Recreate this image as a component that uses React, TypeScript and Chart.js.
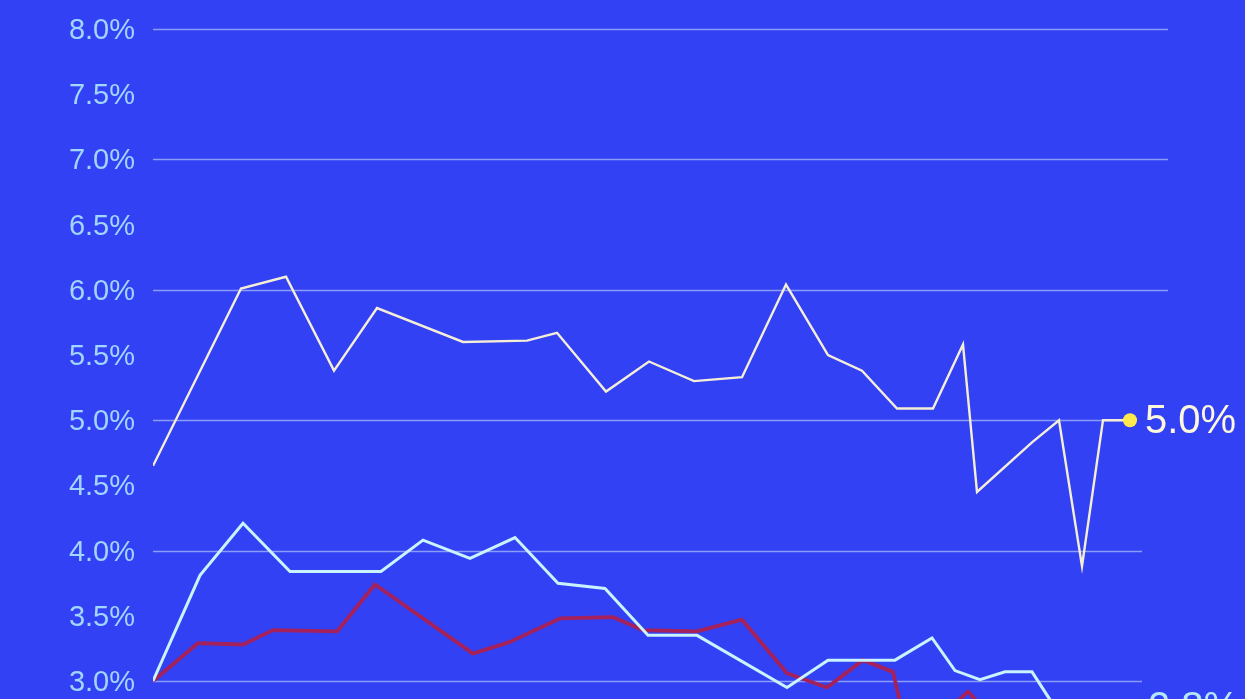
import { useEffect, useRef } from "react";
import { Chart, registerables } from "chart.js";

Chart.register(...registerables);

// Time positions (arbitrary time units) and values in percent
const yellowX = [0, 8.8, 13.3, 18.1, 22.4, 31.0, 37.4, 40.4, 45.3, 49.6, 54.1, 58.9, 63.3, 67.5, 70.9, 74.4, 78.0, 81.0, 82.4, 87.9, 90.6, 92.9, 95.0, 97.7];
const yellowY = [4.65, 6.01, 6.10, 5.38, 5.86, 5.60, 5.61, 5.67, 5.22, 5.45, 5.30, 5.33, 6.04, 5.50, 5.38, 5.09, 5.09, 5.58, 4.45, 4.83, 5.0, 3.88, 5.0, 5.0];

const cyanX = [0, 4.7, 9.0, 13.7, 22.8, 27.0, 31.7, 36.2, 40.5, 45.2, 49.5, 54.4, 63.4, 67.5, 74.2, 77.9, 80.2, 82.7, 85.2, 87.9, 90.6, 92.9, 95.0, 97.7];
const cyanY = [3.0, 3.81, 4.21, 3.84, 3.84, 4.08, 3.94, 4.10, 3.75, 3.71, 3.35, 3.35, 2.95, 3.16, 3.16, 3.33, 3.08, 3.01, 3.07, 3.07, 2.75, 2.7, 2.8, 2.8];

const redX = [0, 4.5, 9.0, 12.0, 18.4, 22.2, 32.0, 35.7, 40.7, 46.0, 49.0, 54.4, 58.9, 63.4, 67.4, 71.0, 74.0, 75.7, 81.5, 84.7, 90.6, 95.0, 97.7];
const redY = [3.0, 3.29, 3.28, 3.39, 3.38, 3.74, 3.21, 3.30, 3.48, 3.49, 3.39, 3.38, 3.47, 3.06, 2.95, 3.16, 3.07, 2.5, 2.92, 2.65, 2.7, 2.6, 2.6];

const yMin = 2.0;
const yMax = 8.0;
const yStep = 0.5;
const xMax = 101.5;

const BG = "#3341f4";
const YELLOW = "#f4eed6";
const CYAN = "#c9f3ff";
const RED = "#a5215c";
const TICK = "#a2d5ff";
const GRID = "#8a9cf8";
const FONT = "'Liberation Sans', Arial, sans-serif";

const toPoints = (xs: number[], ys: number[]) => xs.map((x, i) => ({ x, y: ys[i] }));

export default function App() {
  const ref = useRef<HTMLCanvasElement>(null);

  useEffect(() => {
    document.body.style.margin = "0";
    const bgPlugin = {
      id: "bg",
      beforeDraw(chart: any) {
        const { ctx, width, height } = chart;
        ctx.save();
        ctx.fillStyle = BG;
        ctx.fillRect(0, 0, width, height);
        ctx.restore();
      },
    };
    const gridPlugin = {
      id: "customGrid",
      beforeDatasetsDraw(chart: any) {
        const { ctx, chartArea, scales } = chart;
        const ys = scales.y;
        const xs = scales.x;
        const lastX = xs.getPixelForValue(yellowX[yellowX.length - 1]);
        ctx.save();
        ctx.strokeStyle = GRID;
        ctx.lineWidth = 1.5;
        for (let v = Math.ceil(yMin); v <= yMax; v++) {
          const y = Math.round(ys.getPixelForValue(v)) + 0.5;
          let xEnd = chartArea.right;
          if (v === 5) xEnd = lastX;
          else if (v < 5) xEnd = chartArea.right - 26;
          ctx.beginPath();
          ctx.moveTo(chartArea.left, y);
          ctx.lineTo(xEnd, y);
          ctx.stroke();
        }
        ctx.restore();
      },
    };
    const labelPlugin = {
      id: "endLabels",
      afterDatasetsDraw(chart: any) {
        const { ctx } = chart;
        const specs = [
          { ds: 0, vals: yellowY, color: "#fdf7dc", dx: 15 },
          { ds: 1, vals: cyanY, color: "#b5e6ff", dx: 18 },
        ];
        ctx.save();
        ctx.font = `40px ${FONT}`;
        ctx.textAlign = "left";
        ctx.textBaseline = "middle";
        for (const s of specs) {
          const meta = chart.getDatasetMeta(s.ds);
          const pt = meta.data[meta.data.length - 1];
          ctx.fillStyle = s.color;
          ctx.fillText(s.vals[s.vals.length - 1].toFixed(1) + "%", pt.x + s.dx, pt.y + 2);
        }
        ctx.restore();
      },
    };

    const lastIdx = (arr: number[]) => arr.length - 1;

    const chart = new Chart(ref.current!, {
      type: "line",
      data: {
        datasets: [
          {
            data: toPoints(yellowX, yellowY),
            borderColor: YELLOW,
            borderWidth: 2.4,
            pointRadius: (c: any) => (c.dataIndex === lastIdx(yellowY) ? 7 : 0),
            pointBackgroundColor: "#ffe94d",
            pointBorderWidth: 0,
            tension: 0,
          },
          {
            data: toPoints(cyanX, cyanY),
            borderColor: CYAN,
            borderWidth: 3,
            pointRadius: (c: any) => (c.dataIndex === lastIdx(cyanY) ? 7 : 0),
            pointBackgroundColor: CYAN,
            pointBorderWidth: 0,
            tension: 0,
          },
          {
            data: toPoints(redX, redY),
            borderColor: RED,
            borderWidth: 3.8,
            borderJoinStyle: "round",
            pointRadius: 0,
            tension: 0,
          },
        ],
      } as any,
      options: {
        responsive: false,
        animation: false,
        events: [],
        layout: { padding: { top: 29, right: 77, bottom: 88.6, left: 0 } },
        plugins: { legend: { display: false }, tooltip: { enabled: false } },
        scales: {
          x: { type: "linear", min: 0, max: xMax, display: false },
          y: {
            min: yMin,
            max: yMax,
            border: { display: false },
            grid: { display: false, drawTicks: false },
            afterFit: (s: any) => {
              s.width = 153;
              s.paddingTop = 0;
              s.paddingBottom = 0;
            },
            ticks: {
              stepSize: yStep,
              padding: 18,
              labelOffset: 2,
              color: TICK,
              font: { family: FONT, size: 29 },
              callback: (v: any) => Number(v).toFixed(1) + "%",
            },
          },
        },
      } as any,
      plugins: [bgPlugin, gridPlugin, labelPlugin],
    });
    return () => chart.destroy();
  }, []);

  return (
    <div style={{ width: 1245, height: 699, overflow: "hidden", background: BG }}>
      <canvas ref={ref} width={1245} height={900} style={{ display: "block" }} />
    </div>
  );
}
